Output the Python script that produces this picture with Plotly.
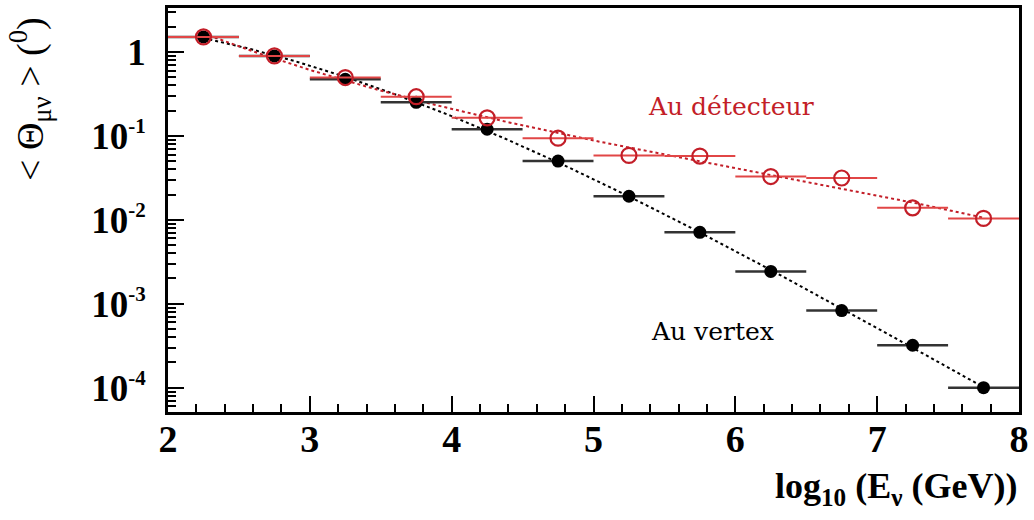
import numpy as np
import plotly.graph_objects as go

# Data
log_e = [2.25, 2.75, 3.25, 3.75, 4.25, 4.75, 5.25, 5.75, 6.25, 6.75, 7.25, 7.75]
bin_half_width = [0.25] * 12
theta_vertex = [1.51, 0.897, 0.473, 0.251, 0.120, 0.0501, 0.0191, 0.00710,
                0.00243, 0.000830, 0.000320, 0.000100]
theta_detector = [1.51, 0.897, 0.496, 0.293, 0.164, 0.094, 0.0586, 0.0575,
                  0.0328, 0.0315, 0.0139, 0.0104]

SUP = "<sup><span style='font-size:21px'>{}</span></sup>"
y_tickvals = [1e-4, 1e-3, 1e-2, 1e-1, 1]
y_ticktext = ["<b>10" + SUP.format("-4") + "</b>", "<b>10" + SUP.format("-3") + "</b>",
              "<b>10" + SUP.format("-2") + "</b>", "<b>10" + SUP.format("-1") + "</b>",
              "<b>1</b>"]
x_tickvals = [2, 3, 4, 5, 6, 7, 8]

RED = "rgb(195,30,40)"
RED_BAR = "rgb(225,70,70)"
SERIF = "Liberation Serif, Times New Roman, serif"
SERIF2 = "DejaVu Serif, serif"

# smooth fits (in log space) of the data, like the original fitted curves
xv = np.array(log_e)
fit_v = np.polyfit(xv, np.log10(theta_vertex), 3)
fit_d = np.polyfit(xv, np.log10(theta_detector), 3)
xf = np.linspace(xv[0], xv[-1], 200)

fig = go.Figure()
fig.add_trace(go.Scatter(x=xf, y=10 ** np.polyval(fit_v, xf), mode="lines",
                         line=dict(color="black", width=2, dash="dot"),
                         hoverinfo="skip", showlegend=False))
fig.add_trace(go.Scatter(x=xf, y=10 ** np.polyval(fit_d, xf), mode="lines",
                         line=dict(color=RED, width=2, dash="dot"),
                         hoverinfo="skip", showlegend=False))
fig.add_trace(go.Scatter(
    x=log_e, y=theta_vertex, mode="markers",
    marker=dict(symbol="circle", size=13, color="black"),
    error_x=dict(type="data", array=bin_half_width, color="#333333", thickness=2.5, width=0),
    showlegend=False))
fig.add_trace(go.Scatter(
    x=log_e, y=theta_detector, mode="markers",
    marker=dict(symbol="circle-open", size=15, color=RED, line=dict(width=2.2, color=RED)),
    error_x=dict(type="data", array=bin_half_width, color=RED_BAR, thickness=2, width=0),
    showlegend=False))

fig.add_annotation(x=5.97, y=np.log10(0.225), xref="x", yref="y", text="Au détecteur",
                   xanchor="center", yanchor="middle",
                   showarrow=False, font=dict(family=SERIF2, size=25, color=RED))
fig.add_annotation(x=5.84, y=np.log10(0.00047), xref="x", yref="y", text="Au vertex",
                   xanchor="center", yanchor="middle",
                   showarrow=False, font=dict(family=SERIF2, size=25, color="black"))
fig.add_annotation(x=1.0, y=-0.19, xref="paper", yref="paper", xanchor="right",
                   yanchor="middle",
                   text="<b>log<sub>10</sub> (E<sub>ν</sub> (GeV))</b>",
                   showarrow=False, font=dict(family=SERIF, size=36, color="black"))
fig.add_annotation(x=-0.162, y=0.775, xref="paper", yref="paper", textangle=-90,
                   xanchor="center", yanchor="middle",
                   text="< Θ<sub>μν</sub> > (<sup>0</sup>)",
                   showarrow=False, font=dict(family=SERIF, size=38, color="black"))

fig.update_layout(
    width=1034, height=520,
    margin=dict(l=168, r=11, t=5, b=108),
    plot_bgcolor="white", paper_bgcolor="white",
    showlegend=False,
)
fig.update_xaxes(
    range=[2, 8], tickvals=x_tickvals, ticktext=[f"<b>{v}</b>" for v in x_tickvals],
    ticks="inside", ticklen=16, tickwidth=2, tickcolor="black",
    minor=dict(ticks="inside", dtick=0.2, ticklen=8, tickwidth=1.5, tickcolor="black"),
    showline=True, linewidth=2.5, linecolor="black", mirror=True,
    showgrid=False, zeroline=False, ticklabelstandoff=-8,
    tickfont=dict(family=SERIF, size=38, color="black"),
)
fig.update_yaxes(
    type="log", range=[-4.29, 0.524],
    tickvals=y_tickvals, ticktext=y_ticktext,
    ticks="inside", ticklen=16, tickwidth=2, tickcolor="black",
    minor=dict(ticks="inside", dtick="D1", ticklen=8, tickwidth=1.5, tickcolor="black"),
    showline=True, linewidth=2.5, linecolor="black", mirror=True,
    showgrid=False, zeroline=False, ticklabelstandoff=12,
    tickfont=dict(family=SERIF, size=37, color="black"),
)

fig.write_html("out.html", config={"displayModeBar": False})
with open("out.html", "r", encoding="utf-8") as f:
    html = f.read()
html = html.replace("<body>", "<body style=\"margin:0;padding:0;overflow:hidden\">", 1)
with open("out.html", "w", encoding="utf-8") as f:
    f.write(html)
